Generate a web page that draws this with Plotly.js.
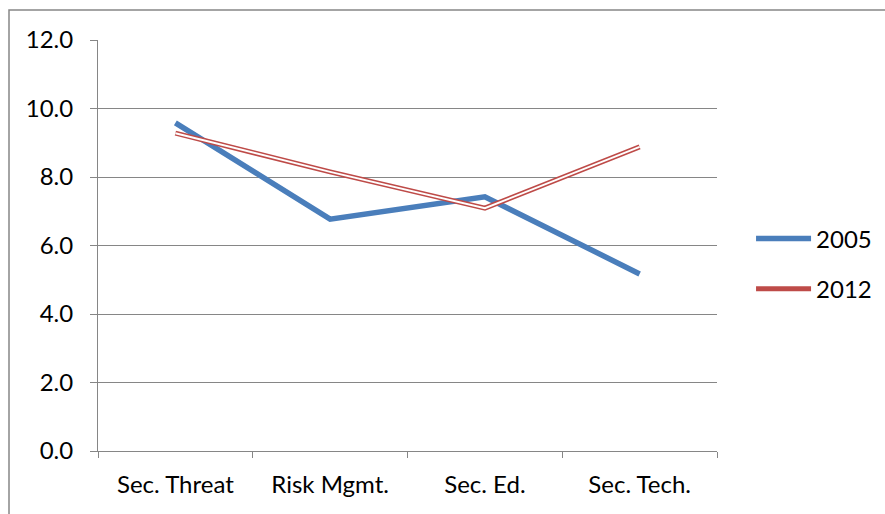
<!DOCTYPE html>
<html>
<head>
<meta charset="utf-8">
<script src="https://cdn.plot.ly/plotly-3.0.1.min.js"></script>
<style>
  html, body { margin: 0; padding: 0; background: #ffffff; }
  #chart { width: 885px; height: 514px; }
</style>
</head>
<body>
<div id="chart"></div>
<script>
// Category labels along the x axis
const categories = ['Sec. Threat', 'Risk Mgmt.', 'Sec. Ed.', 'Sec. Tech.'];

// Scores per category for each survey year
const values2005 = [9.58, 6.77, 7.42, 5.17];
const values2012 = [9.28, 8.15, 7.09, 8.88];

// Y axis ticks
const yTickValues = [0, 2, 4, 6, 8, 10, 12];
const yTickLabels = ['0.0', '2.0', '4.0', '6.0', '8.0', '10.0', '12.0'];

const blue = '#4A7EBB';
const red = '#BE4B48';
const gridGray = '#868686';
const fontFamily = 'Lato, "Open Sans", sans-serif';

const traces = [
  {
    x: categories, y: values2005, name: '2005', type: 'scatter', mode: 'lines',
    line: { color: blue, width: 5.5 }, legendgroup: 'a'
  },
  {
    x: categories, y: values2012, name: '2012', type: 'scatter', mode: 'lines',
    line: { color: red, width: 5 }, legendgroup: 'b'
  },
  {
    // white core that turns the 2012 line into a double stroke
    x: categories, y: values2012, name: '2012 core', type: 'scatter', mode: 'lines',
    line: { color: '#ffffff', width: 2 }, showlegend: false, hoverinfo: 'skip'
  }
];

const plotW = 619, plotH = 411, mL = 98, mT = 40;

const layout = {
  width: 885, height: 514,
  margin: { l: mL, r: 885 - mL - plotW, t: mT, b: 514 - mT - plotH, pad: 0, autoexpand: false },
  paper_bgcolor: '#ffffff', plot_bgcolor: '#ffffff',
  font: { family: fontFamily, size: 24, color: '#000000' },
  showlegend: true,
  legend: {
    x: 1.055, y: 0.455, xanchor: 'left', yanchor: 'middle',
    font: { family: fontFamily, size: 24, color: '#000000' },
    bgcolor: 'rgba(0,0,0,0)', itemwidth: 55, tracegroupgap: 16,
    traceorder: 'grouped'
  },
  xaxis: {
    type: 'category', range: [-0.5, 3.5],
    showgrid: false, zeroline: false,
    showline: true, linecolor: gridGray, linewidth: 1,
    ticks: 'outside', ticklen: 6, tickcolor: gridGray, tickwidth: 1,
    tickson: 'boundaries', ticklabelstandoff: 12,
    tickfont: { family: fontFamily, size: 24, color: '#000000' },
    automargin: false, fixedrange: true
  },
  yaxis: {
    range: [0, 12], tickvals: yTickValues, ticktext: yTickLabels,
    showgrid: true, gridcolor: gridGray, gridwidth: 1,
    zeroline: false,
    showline: true, linecolor: gridGray, linewidth: 1,
    ticks: 'outside', ticklen: 7, tickcolor: gridGray, tickwidth: 1,
    ticklabelstandoff: 12,
    tickfont: { family: fontFamily, size: 24, color: '#000000' },
    automargin: false, fixedrange: true
  },
  shapes: [
    {
      // outer chart frame
      type: 'rect', xref: 'paper', yref: 'paper',
      x0: (9 - mL) / plotW, x1: 2, y0: -1, y1: 1 + (mT - 10) / plotH,
      line: { color: gridGray, width: 1.5 }, fillcolor: 'rgba(0,0,0,0)', layer: 'below'
    }
  ]
};

Plotly.newPlot('chart', traces, layout, { displayModeBar: false, staticPlot: true });
</script>
</body>
</html>
